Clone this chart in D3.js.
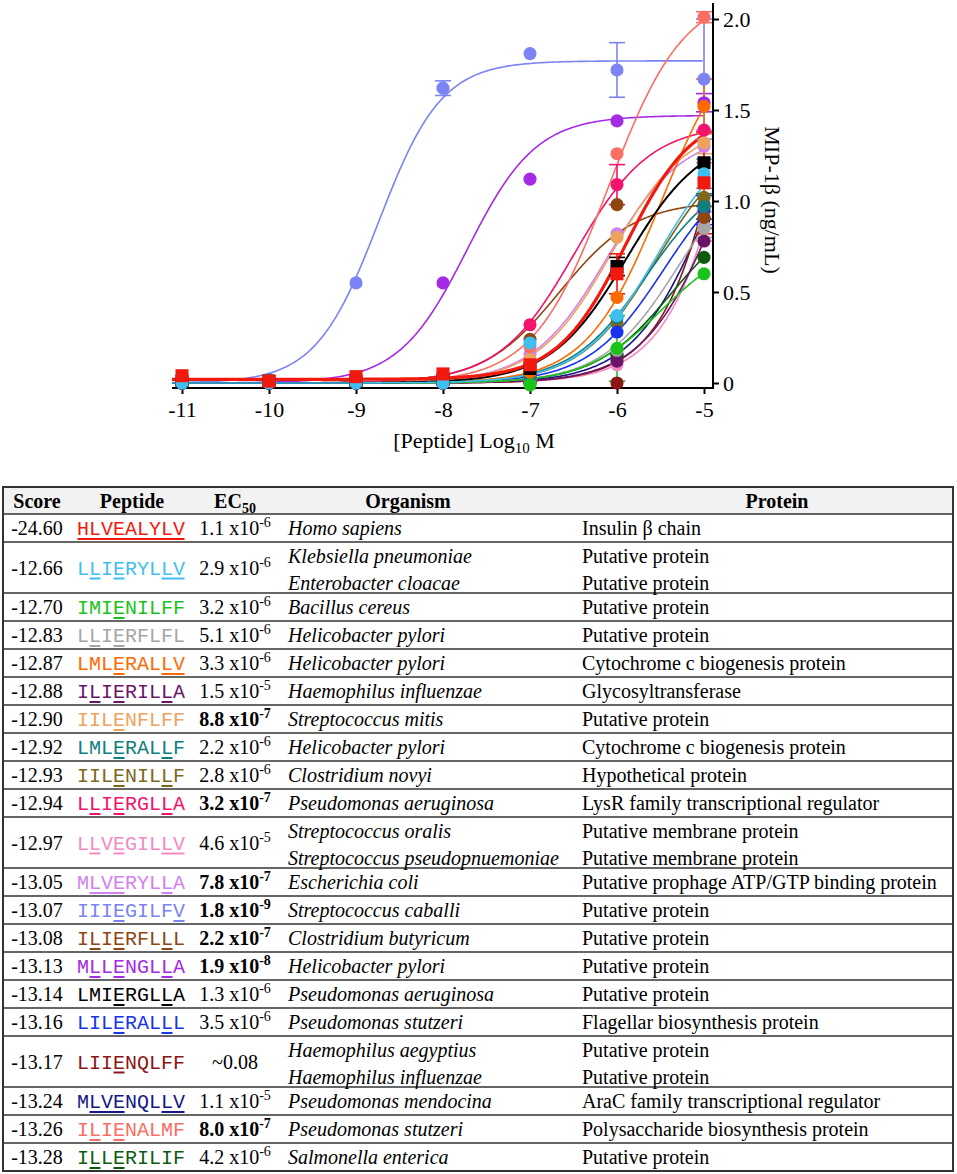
<!DOCTYPE html>
<html>
<head>
<meta charset="utf-8">
<script src="https://cdn.jsdelivr.net/npm/d3@7"></script>
<style>
	body { margin: 0; background: #fff; }
	svg { display: block; }
</style>
</head>
<body>
<div id="figure"></div>
<script>

/*
 * Data.
 * Concentrations are log10 M, responses are MIP-1β in ng/mL.
 */
var concentrations = [-11, -10, -9, -8, -7, -6, -5];
var yTicks = [0, 0.5, 1, 1.5, 2];
var yTickLabels = ["0", "0.5", "1.0", "1.5", "2.0"];

var peptides = ["HLVEALYLV", "LLIERYLLV", "IMIENILFF", "LLIERFLFL", "LMLERALLV",
	"ILIERILLA", "IILENFLFF", "LMLERALLF", "IILENILLF", "LLIERGLLA", "LLVEGILLV",
	"MLVERYLLA", "IIIEGILFV", "ILIERFLLL", "MLLENGLLA", "LMIERGLLA", "LILERALLL",
	"LIIENQLFF", "MLVENQLLV", "ILIENALMF", "ILLERILIF"];

var scores = ["-24.60", "-12.66", "-12.70", "-12.83", "-12.87", "-12.88", "-12.90",
	"-12.92", "-12.93", "-12.94", "-12.97", "-13.05", "-13.07", "-13.08", "-13.13",
	"-13.14", "-13.16", "-13.17", "-13.24", "-13.26", "-13.28"];

// residues underlined in the table (0-based positions)
var underlinedResidues = [[0, 1, 2, 3, 4, 5, 6, 7, 8], [1, 3, 7, 8], [3], [1, 3], [3, 7, 8],
	[1, 3, 7], [3], [3, 7], [3, 7], [1, 3, 7], [1, 3, 7, 8], [1, 2, 3, 7], [3, 8], [1, 3, 7],
	[1, 3, 7], [3, 7], [3, 7], [3], [1, 2, 3, 7, 8], [1, 3], [1, 3]];

var ec50Values = ["1.1", "2.9", "3.2", "5.1", "3.3", "1.5", "8.8", "2.2", "2.8", "3.2", "4.6",
	"7.8", "1.8", "2.2", "1.9", "1.3", "3.5", "~0.08", "1.1", "8.0", "4.2"];
var ec50Exponents = ["-6", "-6", "-6", "-6", "-6", "-5", "-7", "-6", "-6", "-7", "-5",
	"-7", "-9", "-7", "-8", "-6", "-6", null, "-5", "-7", "-6"];
var ec50Bold = [false, false, false, false, false, false, true, false, false, true, false,
	true, true, true, true, false, false, false, false, true, false];

var organisms = [["Homo sapiens"], ["Klebsiella pneumoniae", "Enterobacter cloacae"],
	["Bacillus cereus"], ["Helicobacter pylori"], ["Helicobacter pylori"],
	["Haemophilus influenzae"], ["Streptococcus mitis"], ["Helicobacter pylori"],
	["Clostridium novyi"], ["Pseudomonas aeruginosa"],
	["Streptococcus oralis", "Streptococcus pseudopnuemoniae"], ["Escherichia coli"],
	["Streptococcus caballi"], ["Clostridium butyricum"], ["Helicobacter pylori"],
	["Pseudomonas aeruginosa"], ["Pseudomonas stutzeri"],
	["Haemophilus aegyptius", "Haemophilus influenzae"], ["Pseudomonas mendocina"],
	["Pseudomonas stutzeri"], ["Salmonella enterica"]];

var proteins = [["Insulin β chain"], ["Putative protein", "Putative protein"],
	["Putative protein"], ["Putative protein"], ["Cytochrome c biogenesis protein"],
	["Glycosyltransferase"], ["Putative protein"], ["Cytochrome c biogenesis protein"],
	["Hypothetical protein"], ["LysR family transcriptional regulator"],
	["Putative membrane protein", "Putative membrane protein"],
	["Putative prophage ATP/GTP binding protein"], ["Putative protein"], ["Putative protein"],
	["Putative protein"], ["Putative protein"], ["Flagellar biosynthesis protein"],
	["Putative protein", "Putative protein"], ["AraC family transcriptional regulator"],
	["Polysaccharide biosynthesis protein"], ["Putative protein"]];

// mean response per peptide at each concentration
var responses = [
	[0.04, 0.01, 0.035, 0.05, 0.10, 0.60, 1.10],
	[0.0, 0.0, 0.0, 0.0, 0.22, 0.37, 1.15],
	[0.01, 0.01, 0.01, 0.01, -0.01, 0.19, 0.60],
	[0.01, 0.01, 0.01, 0.01, 0.02, 0.18, 0.85],
	[0.01, 0.01, 0.01, 0.02, 0.06, 0.47, 1.52],
	[0.0, 0.0, 0.0, 0.0, 0.01, 0.12, 0.78],
	[0.01, 0.01, 0.01, 0.02, 0.13, 0.80, 1.32],
	[0.01, 0.01, 0.01, 0.01, 0.03, 0.36, 0.97],
	[0.01, 0.01, 0.01, 0.01, 0.03, 0.33, 1.02],
	[0.01, 0.01, 0.01, 0.03, 0.32, 1.09, 1.39],
	[0.0, 0.0, 0.0, 0.0, 0.01, 0.10, 0.86],
	[0.01, 0.01, 0.01, 0.02, 0.16, 0.82, 1.30],
	[0.0, 0.02, 0.55, 1.62, 1.81, 1.72, 1.67],
	[0.01, 0.01, 0.01, 0.03, 0.24, 0.98, 0.91],
	[0.0, 0.01, 0.03, 0.55, 1.12, 1.44, 1.54],
	[0.01, 0.01, 0.01, 0.02, 0.08, 0.64, 1.21],
	[0.01, 0.01, 0.01, 0.01, 0.03, 0.28, 0.95],
	[0.0, 0.0, 0.0, 0.0, 0.0, 0.0, 0.98],
	[0.0, 0.0, 0.0, 0.0, 0.01, 0.16, 0.90],
	[0.01, 0.01, 0.01, 0.03, 0.20, 1.26, 2.01],
	[0.0, 0.0, 0.0, 0.0, 0.01, 0.15, 0.69]
];

// SEM per point (0 where no bar shows beyond the marker)
var responseErrors = [
	[0, 0, 0, 0, 0, 0.11, 0.28],
	[0, 0, 0, 0, 0, 0, 0.08],
	[0, 0, 0, 0, 0, 0.18, 0],
	[0, 0, 0, 0, 0, 0, 0.05],
	[0, 0, 0, 0, 0, 0, 0.15],
	[0, 0, 0, 0, 0, 0, 0],
	[0, 0, 0, 0, 0, 0, 0.06],
	[0, 0, 0, 0, 0, 0, 0.07],
	[0, 0, 0, 0, 0, 0, 0],
	[0, 0, 0, 0, 0, 0.11, 0],
	[0, 0, 0, 0, 0, 0, 0.08],
	[0, 0, 0, 0, 0, 0, 0.09],
	[0, 0, 0, 0.04, 0, 0.15, 0.33],
	[0, 0, 0, 0, 0, 0, 0.06],
	[0, 0, 0, 0, 0, 0, 0.05],
	[0, 0, 0, 0, 0, 0.05, 0],
	[0, 0, 0, 0, 0, 0, 0.08],
	[0, 0, 0, 0, 0, 0, 0],
	[0, 0, 0, 0, 0, 0, 0],
	[0, 0, 0, 0, 0, 0, 0.03],
	[0, 0, 0, 0, 0, 0, 0]
];

// four parameter logistic fits, parameters estimated from the drawn curves
var fitBottom = [0.02, 0, 0, 0, 0, 0, 0, 0, 0, 0, 0, 0, 0, 0, 0, 0, 0, 0, 0, 0, 0];
var fitTop = [1.50, 1.40, 0.80, 1.29, 2.02, 1.96, 1.43, 1.18, 1.35, 1.42, 4.70,
	1.38, 1.77, 1.00, 1.47, 1.37, 1.25, 6.00, 1.89, 2.15, 0.98];
var fitLogEC50 = [-5.90, -5.54, -5.49, -5.29, -5.48, -4.82, -6.06, -5.66, -5.55, -6.49, -4.34,
	-6.11, -8.74, -6.66, -7.72, -5.89, -5.46, -4.30, -4.96, -6.10, -5.38];
var fitHill = [1.1, 1, 1, 1, 1, 1, 1, 1, 1, 1, 1, 1, 1.2, 1, 1.1, 1, 1, 1, 1, 1, 1];

/*
 * Styles
 */
var peptideColors = ["#f21a0f", "#3fbff0", "#19c319", "#a6a6a6", "#ff6a00", "#6b1569",
	"#eda35c", "#0f7f7f", "#80681a", "#f2136c", "#f489c4", "#d27ff2", "#7b83f5", "#8e4612",
	"#a52ae4", "#000000", "#1733ee", "#8c1515", "#16168c", "#fa6e64", "#0e5b10"];
var markerShapes = ["square", "circle", "circle", "circle", "circle", "circle", "circle",
	"circle", "circle", "circle", "circle", "circle", "circle", "circle", "circle", "square",
	"circle", "circle", "circle", "circle", "circle"];
// which series is painted last ends up on top
var drawOrder = [18, 10, 17, 8, 16, 11, 14, 12, 20, 5, 3, 13, 7, 6, 9, 19, 4, 2, 15, 1, 0];

var serif = "'Liberation Serif', 'Times New Roman', serif";
var mono = "'Liberation Mono', 'Courier New', monospace";


/*
 * Dose response plot with the response axis on the right hand side.
 */
function DoseResponseChart() {

	var xScale = d3.scaleLinear().domain([-11, -5]).range([182, 704]);
	var yScale = d3.scaleLinear().domain([0, 2]).range([383, 19]);
	var axisXPos = 388;		// y coordinate of the concentration axis
	var axisYPos = 713;		// x coordinate of the response axis
	var xStart = -11.115;	// where the curves and the x axis begin

	function chart(selection) {
		selection.each(function() {
			var g = d3.select(this);
			drawAxes(g);
			drawFits(g);
			drawErrors(g);
			drawPoints(g);
		});
	}

	var drawAxes = function(g) {

		var ax = g.append("g")
			.attr("transform", "translate(0," + axisXPos + ")")
			.call(d3.axisBottom(xScale)
				.tickValues(concentrations)
				.tickSize(6)
				.tickPadding(7)
				.tickSizeOuter(0)
				.tickFormat(function(d) { return String(d); }));

		ax.select(".domain").attr("d", "M" + xScale(xStart) + ",0H" + (axisYPos + 1));

		var ay = g.append("g")
			.attr("transform", "translate(" + axisYPos + ",0)")
			.call(d3.axisRight(yScale)
				.tickValues(yTicks)
				.tickSize(6)
				.tickPadding(4)
				.tickSizeOuter(0)
				.tickFormat(function(d, i) { return yTickLabels[i]; }));

		ay.select(".domain").attr("d", "M0,3V" + (axisXPos + 1));

		g.selectAll(".domain, .tick line")
			.attr("stroke", "#000")
			.attr("stroke-width", 2);
		g.selectAll(".tick text")
			.attr("fill", "#000")
			.style("font-family", serif)
			.style("font-size", "22px");

		var title = g.append("text")
			.attr("x", 474)
			.attr("y", 448)
			.attr("text-anchor", "middle")
			.style("font-family", serif)
			.style("font-size", "22px");
		title.append("tspan").text("[Peptide] Log");
		title.append("tspan").attr("dy", 5).style("font-size", "15px").text("10");
		title.append("tspan").attr("dy", -5).text(" M");

		g.append("text")
			.attr("transform", "translate(765,200) rotate(90)")
			.attr("text-anchor", "middle")
			.style("font-family", serif)
			.style("font-size", "22px")
			.text("MIP-1β (ng/mL)");
	}

	var logistic = function(i, x) {
		return fitBottom[i] + (fitTop[i] - fitBottom[i]) /
			(1 + Math.pow(10, (fitLogEC50[i] - x) * fitHill[i]));
	}

	var drawFits = function(g) {

		var samples = d3.range(xStart, -4.999, 0.02);
		var line = d3.line()
			.x(function(d) { return xScale(d[0]); })
			.y(function(d) { return yScale(d[1]); });

		g.append("g").selectAll("path")
			.data(drawOrder)
			.join("path")
			.attr("fill", "none")
			.attr("stroke", function(i) { return peptideColors[i]; })
			.attr("stroke-width", function(i) { return i === 0 ? 3.2 : (i === 15 ? 2 : 1.6); })
			.attr("d", function(i) {
				return line(samples.map(function(x) { return [x, logistic(i, x)]; }));
			});
	}

	var drawErrors = function(g) {

		var bars = [];
		drawOrder.forEach(function(i) {
			concentrations.forEach(function(c, j) {
				if (responseErrors[i][j] > 0)
					bars.push({ s: i, x: c, y: responses[i][j], e: responseErrors[i][j] });
			});
		});

		var eg = g.append("g").selectAll("g")
			.data(bars)
			.join("g")
			.attr("stroke", function(d) { return peptideColors[d.s]; })
			.attr("stroke-width", 1.6);

		eg.append("line")
			.attr("x1", function(d) { return xScale(d.x); })
			.attr("x2", function(d) { return xScale(d.x); })
			.attr("y1", function(d) { return yScale(d.y - d.e); })
			.attr("y2", function(d) { return yScale(d.y + d.e); });

		[-1, 1].forEach(function(sign) {
			eg.append("line")
				.attr("x1", function(d) { return xScale(d.x) - 8; })
				.attr("x2", function(d) { return xScale(d.x) + 8; })
				.attr("y1", function(d) { return yScale(d.y + sign * d.e); })
				.attr("y2", function(d) { return yScale(d.y + sign * d.e); });
		});
	}

	var drawPoints = function(g) {

		var pts = [];
		drawOrder.forEach(function(i) {
			concentrations.forEach(function(c, j) {
				pts.push({ s: i, x: c, y: responses[i][j] });
			});
		});

		var symbol = d3.symbol().size(function(d) {
			return markerShapes[d.s] === "square" ? 170 : 135;
		}).type(function(d) {
			return markerShapes[d.s] === "square" ? d3.symbolSquare : d3.symbolCircle;
		});

		g.append("g").selectAll("path")
			.data(pts)
			.join("path")
			.attr("transform", function(d) {
				return "translate(" + xScale(d.x) + "," + yScale(d.y) + ")";
			})
			.attr("fill", function(d) { return peptideColors[d.s]; })
			.attr("d", symbol);
	}

	return chart;
}


/*
 * Table of the peptides, drawn into the same svg below the plot.
 */
function PeptideTable() {

	var left = 3;
	var right = 953;
	var top = 487;
	var headerHeight = 27;
	var fontSize = 20;

	var scoreX = 37, peptideX = 131, ec50X = 235, organismX = 288, proteinX = 582;

	function chart(selection) {
		selection.each(function() {
			var g = d3.select(this);

			var rowTops = [];
			var y = top + headerHeight;
			organisms.forEach(function(o) {
				rowTops.push(y);
				y += 5 + 23 * o.length;
			});
			var bottom = y;

			g.append("rect")
				.attr("x", left).attr("y", top)
				.attr("width", right - left).attr("height", headerHeight)
				.attr("fill", "#f2f2f2");

			drawHeader(g);

			g.append("g").selectAll("line")
				.data(rowTops)
				.join("line")
				.attr("x1", left).attr("x2", right)
				.attr("y1", function(d) { return d; })
				.attr("y2", function(d) { return d; })
				.attr("stroke", "#333")
				.attr("stroke-width", 1.4);

			g.append("rect")
				.attr("x", left).attr("y", top)
				.attr("width", right - left).attr("height", bottom - top)
				.attr("fill", "none")
				.attr("stroke", "#333")
				.attr("stroke-width", 2);

			peptides.forEach(function(p, i) {
				drawRow(g, i, rowTops[i]);
			});
		});
	}

	var drawHeader = function(g) {

		var hy = top + 21;
		var h = g.append("g")
			.style("font-family", serif)
			.style("font-size", fontSize + "px")
			.style("font-weight", "bold")
			.attr("text-anchor", "middle");

		h.append("text").attr("x", scoreX).attr("y", hy).text("Score");
		h.append("text").attr("x", peptideX + 1).attr("y", hy).text("Peptide");
		var ec = h.append("text").attr("x", ec50X).attr("y", hy);
		ec.append("tspan").text("EC");
		ec.append("tspan").attr("dy", 5).style("font-size", "14px").text("50");
		h.append("text").attr("x", 408).attr("y", hy).text("Organism");
		h.append("text").attr("x", 777).attr("y", hy).text("Protein");
	}

	var drawRow = function(g, i, rowTop) {

		var n = organisms[i].length;
		var rowHeight = 5 + 23 * n;
		var mid = rowTop + rowHeight / 2 + 7;

		var r = g.append("g")
			.style("font-family", serif)
			.style("font-size", fontSize + "px");

		r.append("text")
			.attr("x", scoreX).attr("y", mid)
			.attr("text-anchor", "middle")
			.text(scores[i]);

		var pep = r.append("text")
			.attr("x", peptideX).attr("y", mid)
			.attr("text-anchor", "middle")
			.attr("fill", peptideColors[i])
			.style("font-family", mono)
			.text(peptides[i]);
		underline(r, pep.node(), i, mid + 4);

		var ec = r.append("text")
			.attr("x", ec50X).attr("y", mid)
			.attr("text-anchor", "middle")
			.style("font-weight", ec50Bold[i] ? "bold" : null);
		if (ec50Exponents[i]) {
			ec.append("tspan").text(ec50Values[i] + " x10");
			ec.append("tspan").attr("dy", -8).style("font-size", "14px").text(ec50Exponents[i]);
		} else {
			ec.text(ec50Values[i]);
		}

		organisms[i].forEach(function(o, k) {
			r.append("text")
				.attr("x", organismX).attr("y", rowTop + 21 + 27 * k)
				.style("font-style", "italic")
				.text(o);
		});
		proteins[i].forEach(function(p, k) {
			r.append("text")
				.attr("x", proteinX).attr("y", rowTop + 21 + 27 * k)
				.text(p);
		});
	}

	/*
	 * Underline the marked residues; neighbouring residues share one stroke.
	 */
	var underline = function(g, node, i, y) {

		var idx = underlinedResidues[i];
		var segs = [];
		idx.forEach(function(k) {
			var last = segs[segs.length - 1];
			if (last && last.to === k - 1) last.to = k;
			else segs.push({ from: k, to: k });
		});

		g.selectAll(null)
			.data(segs)
			.join("line")
			.attr("x1", function(d) { return node.getStartPositionOfChar(d.from).x + 0.5; })
			.attr("x2", function(d) { return node.getEndPositionOfChar(d.to).x - 0.5; })
			.attr("y1", y).attr("y2", y)
			.attr("stroke", peptideColors[i])
			.attr("stroke-width", 2);
	}

	return chart;
}


var svg = d3.select("#figure").append("svg")
	.attr("width", 957)
	.attr("height", 1174);

svg.append("rect").attr("width", 957).attr("height", 1174).attr("fill", "#fff");

svg.append("g").call(DoseResponseChart());
svg.append("g").call(PeptideTable());

</script>
</body>
</html>
